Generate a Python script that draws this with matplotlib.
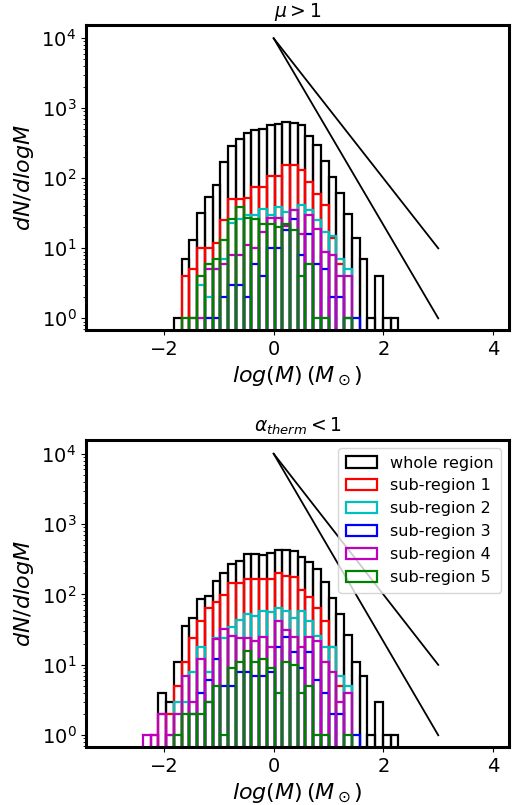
import numpy as np
import matplotlib
matplotlib.use("Agg")
import matplotlib.pyplot as plt

# common bin edges (log M)
edges = np.linspace(-2.385, -2.385 + 0.1412 * 33, 34)

labels = ["whole region", "sub-region 1", "sub-region 2", "sub-region 3", "sub-region 4", "sub-region 5"]
colors = ["k", "r", "c", "b", "m", "g"]

# ---- top panel: mu > 1 (counts per bin, 33 bins) ----
top_whole = [0, 0, 0, 0, 1, 7, 13, 32, 54, 79, 171, 286, 363, 447, 483, 503, 569, 600,
             630, 615, 570, 400, 300, 178, 105, 62, 31, 14, 7, 1, 4, 1, 1]
top_sub1 = [0, 0, 0, 0, 0, 4, 5, 10, 10, 12, 25, 51, 51, 53, 74, 74, 107, 107,
            153, 153, 133, 89, 60, 41, 14, 6, 0, 0, 0, 0, 0, 0, 0]
top_sub2 = [0, 0, 0, 0, 0, 0, 0, 3, 2, 5, 7, 23, 26, 30, 30, 37, 30, 39,
            33, 35, 42, 35, 25, 17, 15, 7, 5, 0, 0, 0, 0, 0, 0]
top_sub3 = [0, 0, 0, 0, 0, 0, 0, 0, 1, 1, 2, 3, 3, 2, 6, 4, 10, 10,
            18, 26, 8, 16, 6, 5, 2, 2, 1, 1, 0, 0, 0, 0, 0]
top_sub4 = [0, 0, 0, 0, 0, 0, 1, 1, 5, 5, 6, 8, 8, 11, 10, 17, 27, 27,
            21, 35, 16, 30, 19, 9, 8, 4, 4, 0, 0, 0, 0, 0, 0]
top_sub5 = [0, 0, 0, 0, 0, 1, 1, 4, 6, 7, 13, 26, 39, 27, 26, 22, 22, 20,
            22, 18, 4, 6, 1, 1, 0, 0, 1, 0, 0, 0, 0, 0, 0]

# ---- bottom panel: alpha_therm < 1 ----
bot_whole = [0, 0, 4, 3, 11, 36, 47, 87, 95, 158, 201, 275, 299, 372, 381, 367, 389, 425,
             434, 417, 346, 287, 227, 150, 89, 53, 27, 11, 7, 1, 3, 1, 1]
bot_sub1 = [0, 1, 2, 2, 5, 11, 24, 42, 64, 78, 99, 146, 146, 166, 166, 166, 166, 202,
            183, 176, 114, 92, 65, 42, 18, 5, 0, 0, 0, 0, 0, 0, 0]
bot_sub2 = [0, 0, 0, 1, 3, 3, 8, 18, 8, 24, 24, 35, 43, 52, 50, 59, 57, 65,
            59, 47, 59, 42, 26, 18, 18, 7, 5, 0, 0, 0, 0, 0, 0]
bot_sub3 = [0, 0, 0, 0, 0, 0, 2, 4, 6, 12, 5, 5, 8, 8, 7, 7, 8, 18,
            25, 15, 9, 15, 6, 4, 2, 2, 0, 1, 0, 0, 0, 0, 0]
bot_sub4 = [1, 1, 2, 1, 2, 7, 3, 12, 3, 23, 32, 26, 24, 24, 22, 25, 18, 42,
            31, 25, 18, 25, 22, 11, 8, 3, 4, 0, 0, 0, 0, 0, 0]
bot_sub5 = [0, 0, 0, 0, 1, 2, 2, 2, 3, 5, 1, 9, 11, 16, 11, 12, 9, 4,
            11, 10, 4, 5, 1, 1, 0, 0, 1, 0, 0, 0, 0, 0, 0]

titles = [r"$\mu > 1$", r"$\alpha_{therm} < 1$"]
panels = [
    [top_whole, top_sub1, top_sub2, top_sub3, top_sub4, top_sub5],
    [bot_whole, bot_sub1, bot_sub2, bot_sub3, bot_sub4, bot_sub5],
]

# reference power-law lines
line_x = [0.0, 3.0]
line_slopes = [-1.0, -4.0 / 3.0]
line_norm = 1e4

fig = plt.figure(figsize=(5.16, 8.05), dpi=100)
ax_rects = [[0.1667, 0.590, 0.8198, 0.379], [0.1667, 0.072, 0.8198, 0.381]]

widths = np.diff(edges)
for i, (rect, series) in enumerate(zip(ax_rects, panels)):
    ax = fig.add_axes(rect)
    ax.set_yscale("log")
    for counts, c, lab in zip(series, colors, labels):
        ax.bar(edges[:-1], counts, width=widths, align="edge", fill=False,
               edgecolor=c, linewidth=1.6, label=lab)
    for s in line_slopes:
        xs = np.array(line_x)
        ax.plot(xs, line_norm * 10 ** (s * xs), color="k", linewidth=1.3)
    ax.set_xlim(-3.42, 4.29)
    ax.set_ylim(0.68, 1.55e4)
    ax.set_xticks([-2, 0, 2, 4])
    ax.set_title(titles[i], fontsize=13.5)
    ax.set_xlabel(r"$log(M)\,(M_\odot)$", fontsize=16)
    ax.set_ylabel(r"$dN/dlogM$", fontsize=16)
    ax.tick_params(axis="both", which="major", labelsize=14)
    for sp in ax.spines.values():
        sp.set_linewidth(2.2)
    if i == 1:
        ax.legend(loc="upper right", fontsize=11.5, handlelength=2.0,
                  borderpad=0.45, labelspacing=0.5)

fig.savefig("out.png", dpi=100)
